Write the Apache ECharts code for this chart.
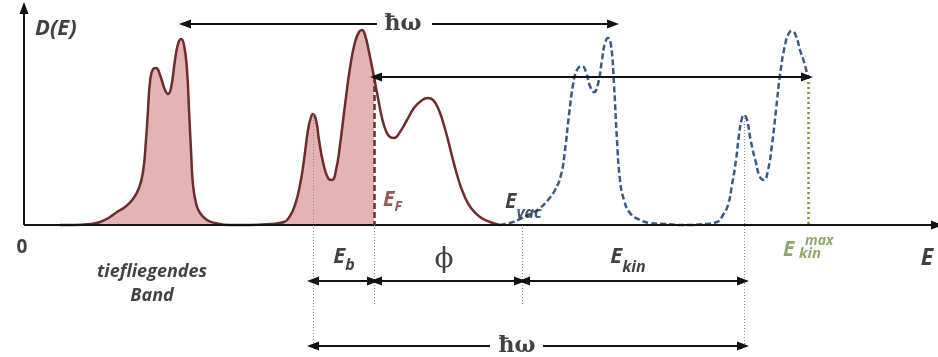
<!DOCTYPE html>
<html>
<head>
<meta charset="utf-8">
<script src="https://cdn.jsdelivr.net/npm/echarts@6/dist/echarts.min.js"></script>
<style>
  html, body { margin: 0; background: #fff; }
  #main { width: 938px; height: 357px; }
</style>
</head>
<body>
<div id="main"></div>
<script>
// Zustandsdichte D(E) (E horizontal, D vertikal)
var redCurve = [
  [36,0],[51,0],[66,1],[76,3],[86,8],[93,13],[101,18],[109,26],[115,37],[119,53],
  [122,85],[124,115],[126,143],[129,156],[132,157],[136,150],[141,135],[144,131],
  [147,137],[151,165],[154,181],[157,186],[160,180],[163,155],[165,115],[167,75],
  [169,40],[172,22],[176,12],[183,5],[191,2],[206,0],[226,0],[246,1],[260,3],
  [266,9],[271,20],[276,40],[280,65],[284,95],[287,108],[289,111],[292,105],
  [295,85],[299,63],[304,47],[308,45],[312,55],[316,80],[321,120],[326,157],
  [331,183],[335,193],[338,195],[341,190],[345,173],[350,148],[354,127],[358,107],
  [362,94],[366,88],[370,87],[376,93],[383,105],[390,117],[397,124],[404,127],
  [409,125],[414,117],[419,103],[424,85],[429,65],[434,47],[440,30],[447,17],
  [456,8],[466,3],[476,0]
];
// verschobene Kurve (Photoelektronen)
var blueCurve = [
  [476,0],[486,2],[496,6],[506,11],[516,17],[524,25],[531,35],[537,50],[541,75],
  [545,110],[549,140],[553,155],[558,159],[562,153],[566,139],[570,133],[574,141],
  [578,165],[581,182],[584,187],[587,180],[590,140],[593,85],[596,45],[600,25],
  [606,12],[616,5],[626,2],[641,1],[661,0],[681,1],[693,3],[699,10],[704,20],
  [708,40],[712,65],[715,90],[718,107],[720,110],[723,105],[727,83],[732,62],
  [736,48],[740,45],[744,55],[748,80],[752,115],[756,150],[761,180],[765,192],
  [768,194],[772,189],[776,175],[780,163],[784,148]
];

var E_peak = 289;   // Peak fuer E_b
var E_F = 350;      // Fermi-Energie
var D_F = 148;
var E_vac = 498;
var E_kinEnd = 720;
var E_kinMax = 784;

var filled = redCurve.filter(function (p) { return p[0] <= E_F; });

var myChart = echarts.init(document.getElementById('main'));

var FONT = 'Open Sans';
var grey = '#8a8a8a';
var green = '#77933c';
var darkRed = '#6e2c2c';
var HEAD = [9, 12];

function seg(x1, y1, x2, y2, s1, s2, style) {
  return [
    { coord: [x1, y1], symbol: s1, symbolSize: HEAD, lineStyle: style },
    { coord: [x2, y2], symbol: s2, symbolSize: HEAD }
  ];
}
var black = { color: '#111', width: 2, type: 'solid' };
var dotted = { color: grey, width: 1, type: [1, 2] };

function lbl(x, y, text, rich, align) {
  return {
    value: [x, y],
    label: {
      show: true, formatter: text, rich: rich,
      position: 'inside', align: align || 'center', verticalAlign: 'middle'
    }
  };
}
var bi = { fontFamily: FONT, fontWeight: 'bold', fontStyle: 'italic', color: '#111' };
function st(o) { return Object.assign({}, bi, o); }
// Hauptbuchstabe und tiefgestellter Index
function main(size, lh, color) { return st({ fontSize: size, color: color || '#111', lineHeight: lh }); }
function sub(size, color) { return st({ fontSize: size, color: color || '#111', lineHeight: size, verticalAlign: 'bottom' }); }
var serif = { fontFamily: 'DejaVu Serif', fontWeight: 'bold', fontSize: 22, color: '#111' };

var labels = [
  lbl(11, 196, '{a|D(E)}', { a: st({ fontSize: 22 }) }, 'left'),
  lbl(-2, -23, '{a|0}', { a: { fontFamily: FONT, fontWeight: 'bold', fontSize: 19, color: '#111' } }),
  lbl(128, -47, '{a|tiefliegendes}', { a: st({ fontSize: 18 }) }),
  lbl(128, -71, '{a|Band}', { a: st({ fontSize: 18 }) }),
  lbl(359, 25, '{e|E}{s|F}', { e: main(21, 28, '#7a2e2e'), s: sub(14, '#7a2e2e') }, 'left'),
  lbl(481, 23, '{e|E}{s|vac}', { e: main(21, 38), s: sub(16, '#1d2c47') }, 'left'),
  lbl(320, -32, '{e|E}{s|b}', { e: main(22, 33), s: sub(16) }),
  lbl(420, -35, '{a|ϕ}', { a: { fontFamily: 'DejaVu Serif', fontSize: 28, color: '#111' } }),
  lbl(604, -32, '{e|E}{s|kin}', { e: main(22, 37), s: sub(16) }),
  lbl(759, -25, '{e|E}', { e: st({ fontSize: 21, color: green }) }, 'left'),
  lbl(775, -29, '{s|kin}', { s: st({ fontSize: 15, color: green }) }, 'left'),
  lbl(781, -16, '{s|max}', { s: st({ fontSize: 14, color: green }) }, 'left'),
  lbl(903, -33, '{a|E}', { a: st({ fontSize: 23 }) }),
  lbl(379, 201, '{a|ħω}', { a: serif }),
  lbl(493, -121, '{a|ħω}', { a: serif })
];

var hidden = {
  axisLine: { show: false }, axisTick: { show: false },
  axisLabel: { show: false }, splitLine: { show: false }
};

var option = {
  animation: false,
  grid: { left: 24, right: 0, top: 0, bottom: 0 },
  xAxis: Object.assign({ type: 'value', min: 0, max: 914 }, hidden),
  yAxis: Object.assign({ type: 'value', min: -132, max: 225 }, hidden),
  series: [
    {
      // besetzte Zustaende bis E_F
      type: 'line', data: filled, smooth: 0.5,
      symbol: 'none', lineStyle: { width: 0 },
      areaStyle: { color: '#e4b4b4', opacity: 1, origin: 0 }
    },
    {
      type: 'line', data: redCurve, smooth: 0.5,
      symbol: 'none', lineStyle: { color: darkRed, width: 2.5 }, z: 3,
      markLine: {
        silent: true, label: { show: false }, z: 4,
        data: [
          // Achsen
          seg(0, 0, 913, 0, 'none', 'triangle', black),
          seg(0, 0, 0, 217, 'none', 'triangle', black),
          // E_F gestrichelt
          seg(E_F, D_F, E_F, 0, 'none', 'none', { color: darkRed, width: 2.5, type: [6, 3] }),
          // gruen gepunktet bei E_kin^max
          seg(E_kinMax, D_F, E_kinMax, 0, 'none', 'none', { color: green, width: 2.5, type: [2, 3] }),
          // graue Hilfslinien
          seg(E_peak, 111, E_peak, -123, 'none', 'none', dotted),
          seg(E_F, 0, E_F, -81, 'none', 'none', dotted),
          seg(E_vac, 0, E_vac, -81, 'none', 'none', dotted),
          seg(E_kinEnd, 110, E_kinEnd, -123, 'none', 'none', dotted),
          // hbar omega oben
          seg(353, 201, 161, 201, 'none', 'triangle', black),
          seg(408, 201, 589, 201, 'none', 'triangle', black),
          // E_F -> E_kin^max
          seg(352, D_F, 783, D_F, 'triangle', 'triangle', black),
          // E_b, phi, E_kin
          seg(E_peak, -56, E_F - 1, -56, 'triangle', 'triangle', black),
          seg(E_F + 2, -56, E_vac - 2, -56, 'triangle', 'triangle', black),
          seg(E_vac + 2, -56, E_kinEnd - 1, -56, 'triangle', 'triangle', black),
          // hbar omega unten
          seg(466, -121, E_peak, -121, 'none', 'triangle', black),
          seg(519, -121, E_kinEnd - 1, -121, 'none', 'triangle', black)
        ]
      }
    },
    {
      type: 'line', data: blueCurve, smooth: 0.5,
      symbol: 'none', lineStyle: { color: '#3b5b82', width: 2.5, type: [6, 3] }, z: 3
    },
    {
      type: 'scatter', data: labels, symbolSize: 0, silent: true, clip: false, z: 10
    }
  ]
};

myChart.setOption(option);
</script>
</body>
</html>
